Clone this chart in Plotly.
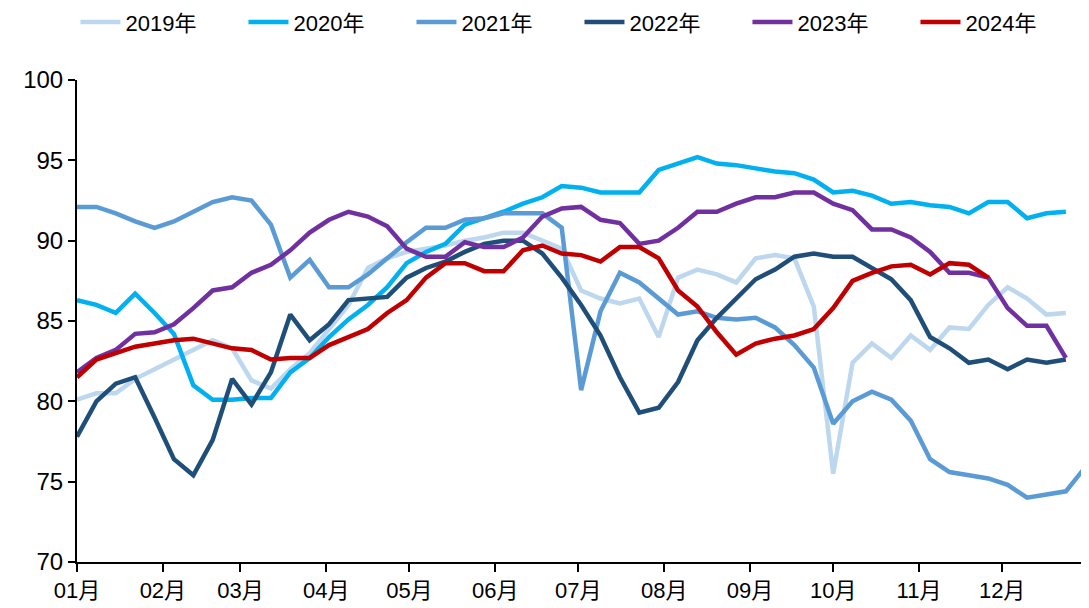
import pandas as pd
import plotly.graph_objects as go

years = ["2019年", "2020年", "2021年", "2022年", "2023年", "2024年"]
colors = ["#BDD7EE", "#00B0F0", "#5B9BD5", "#1F4E79", "#7030A0", "#C00000"]

v2019 = [80.1, 80.5, 80.5, 81.4, 82.0, 82.6, 83.2, 83.8, 83.3, 81.3, 80.8, 82.0, 83.0,
         84.5, 86.0, 88.3, 88.9, 89.3, 89.5, 89.7, 90.0, 90.2, 90.5, 90.5, 90.0, 89.5,
         86.9, 86.4, 86.1, 86.4, 84.0, 87.7, 88.2, 87.9, 87.4, 88.9, 89.1, 88.9, 85.9,
         75.5, 82.4, 83.6, 82.7, 84.1, 83.2, 84.6, 84.5, 86.0, 87.1, 86.4, 85.4, 85.5]
v2020 = [86.3, 86.0, 85.5, 86.7, 85.5, 84.2, 81.0, 80.1, 80.1, 80.2, 80.2, 81.8, 82.7,
         84.0, 85.1, 86.0, 87.1, 88.6, 89.3, 89.8, 91.0, 91.4, 91.8, 92.3, 92.7, 93.4,
         93.3, 93.0, 93.0, 93.0, 94.4, 94.8, 95.2, 94.8, 94.7, 94.5, 94.3, 94.2, 93.8,
         93.0, 93.1, 92.8, 92.3, 92.4, 92.2, 92.1, 91.7, 92.4, 92.4, 91.4, 91.7, 91.8]
v2021 = [92.1, 92.1, 91.7, 91.2, 90.8, 91.2, 91.8, 92.4, 92.7, 92.5, 91.0, 87.7, 88.8,
         87.1, 87.1, 87.9, 88.9, 89.9, 90.8, 90.8, 91.3, 91.4, 91.7, 91.7, 91.7, 90.8,
         80.7, 85.6, 88.0, 87.4, 86.4, 85.4, 85.6, 85.2, 85.1, 85.2, 84.6, 83.5, 82.1,
         78.6, 80.0, 80.6, 80.1, 78.8, 76.4, 75.6, 75.4, 75.2, 74.8, 74.0, 74.2, 74.4, 75.9]
v2022 = [77.8, 80.0, 81.1, 81.5, 79.0, 76.4, 75.4, 77.6, 81.4, 79.8, 81.8, 85.4, 83.8,
         84.8, 86.3, 86.4, 86.5, 87.7, 88.3, 88.7, 89.3, 89.8, 90.0, 90.0, 89.2, 87.7,
         86.0, 84.1, 81.5, 79.3, 79.6, 81.2, 83.8, 85.2, 86.4, 87.6, 88.2, 89.0, 89.2,
         89.0, 89.0, 88.3, 87.6, 86.3, 84.0, 83.3, 82.4, 82.6, 82.0, 82.6, 82.4, 82.6]
v2023 = [81.8, 82.7, 83.2, 84.2, 84.3, 84.8, 85.8, 86.9, 87.1, 88.0, 88.5, 89.4, 90.5,
         91.3, 91.8, 91.5, 90.9, 89.5, 89.0, 89.0, 89.9, 89.6, 89.6, 90.2, 91.5, 92.0,
         92.1, 91.3, 91.1, 89.8, 90.0, 90.8, 91.8, 91.8, 92.3, 92.7, 92.7, 93.0, 93.0,
         92.3, 91.9, 90.7, 90.7, 90.2, 89.3, 88.0, 88.0, 87.7, 85.8, 84.7, 84.7, 82.7]
v2024 = [81.5, 82.6, 83.0, 83.4, 83.6, 83.8, 83.9, 83.6, 83.3, 83.2, 82.6, 82.7, 82.7,
         83.5, 84.0, 84.5, 85.5, 86.3, 87.7, 88.6, 88.6, 88.1, 88.1, 89.4, 89.7, 89.2,
         89.1, 88.7, 89.6, 89.6, 88.9, 86.9, 85.9, 84.3, 82.9, 83.6, 83.9, 84.1, 84.5,
         85.8, 87.5, 88.0, 88.4, 88.5, 87.9, 88.6, 88.5, 87.7]

series = [v2019, v2020, v2021, v2022, v2023, v2024]

month_ticks = pd.date_range("2023-01-01", "2024-01-01", freq="MS")
month_labels = ["01月", "02月", "03月", "04月", "05月", "06月",
                "07月", "08月", "09月", "10月", "11月", "12月", ""]

font_family = "Liberation Sans, Arial, Noto Sans CJK SC, sans-serif"

fig = go.Figure()
for name, color, vals in zip(years, colors, series):
    dates = pd.date_range("2023-01-01", periods=len(vals), freq="7D")
    fig.add_trace(go.Scatter(
        x=dates, y=vals, name=name, mode="lines",
        line=dict(color=color, width=4.5),
    ))

fig.update_layout(
    width=1081, height=600,
    margin=dict(l=69, r=1, t=72, b=46, autoexpand=False),
    paper_bgcolor="white", plot_bgcolor="white",
    font=dict(family=font_family, size=22, color="black"),
    showlegend=True,
    legend=dict(
        orientation="h", x=0.497, xanchor="center", y=1.12, yanchor="middle",
        font=dict(size=22, color="black"), entrywidth=113, entrywidthmode="pixels",
        bgcolor="rgba(0,0,0,0)", itemwidth=40,
    ),
    xaxis=dict(
        type="date",
        range=["2023-01-01", "2024-01-01"],
        tickvals=list(month_ticks), ticktext=month_labels,
        showgrid=False, zeroline=False,
        showline=True, linecolor="black", linewidth=2,
        ticks="outside", ticklen=8, tickwidth=2, tickcolor="black",
        tickfont=dict(size=22, color="black"),
    ),
    yaxis=dict(
        range=[70, 100], dtick=5, tick0=70,
        showgrid=False, zeroline=False,
        showline=True, linecolor="black", linewidth=2,
        ticks="outside", ticklen=7, tickwidth=2, tickcolor="black",
        tickfont=dict(size=24, color="black"),
    ),
)

fig.write_html("out.html")
